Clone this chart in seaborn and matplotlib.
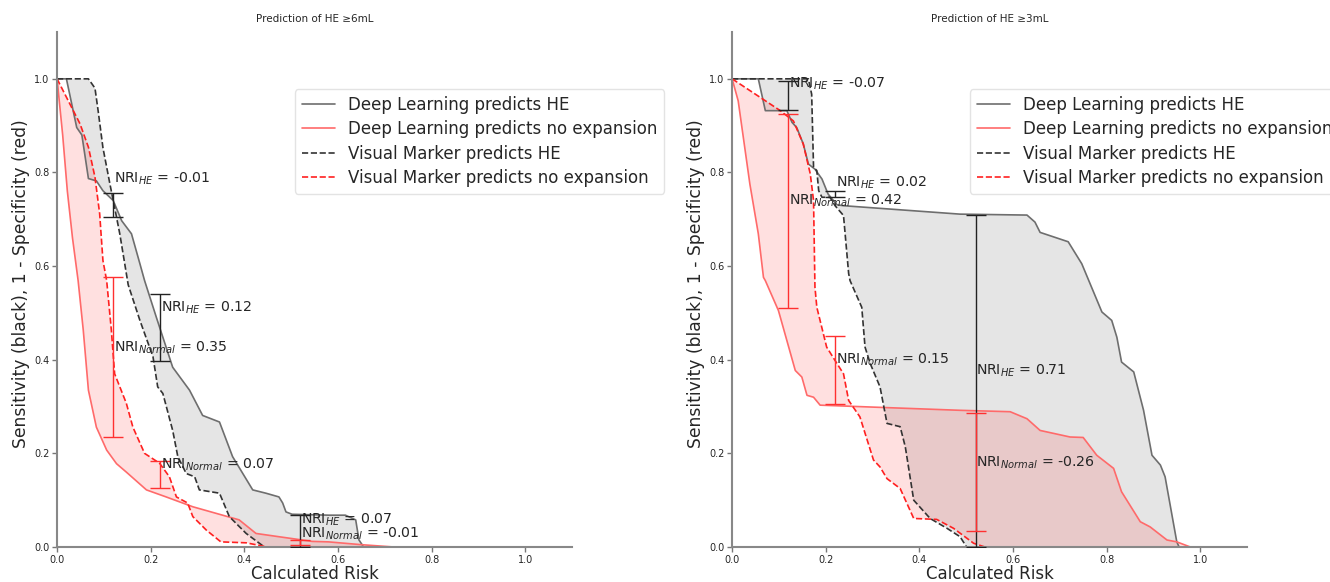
import numpy as np
import pandas as pd
import seaborn as sns
import matplotlib
matplotlib.use("Agg")
import matplotlib.pyplot as plt

# ---------------- data ----------------
titles = ["Prediction of HE \u22656mL", "Prediction of HE \u22653mL"]
legend_labels = ["Deep Learning predicts HE", "Deep Learning predicts no expansion",
                 "Visual Marker predicts HE", "Visual Marker predicts no expansion"]

# Panel 1 (HE >= 6 mL)
p1_dl_he_x = [0, 0.02, 0.042, 0.053, 0.067, 0.084, 0.098, 0.12, 0.138, 0.159, 0.177, 0.187, 0.212, 0.247,
              0.283, 0.311, 0.347, 0.375, 0.418, 0.446, 0.474, 0.482, 0.489, 0.502, 0.581, 0.616, 0.638,
              0.645, 0.655, 1.0]
p1_dl_he_y = [1.0, 1.0, 0.896, 0.88, 0.787, 0.782, 0.761, 0.74, 0.697, 0.669, 0.605, 0.569, 0.491, 0.384,
              0.335, 0.281, 0.267, 0.193, 0.122, 0.115, 0.107, 0.094, 0.075, 0.07, 0.068, 0.068, 0.058,
              0.015, 0.0, 0.0]
p1_dl_no_x = [0, 0.012, 0.022, 0.033, 0.045, 0.056, 0.067, 0.084, 0.106, 0.127, 0.148, 0.191, 0.233, 0.29,
              0.389, 0.425, 0.474, 0.545, 0.58, 0.65, 0.72, 1.0]
p1_dl_no_y = [1.0, 0.88, 0.76, 0.66, 0.569, 0.463, 0.335, 0.256, 0.207, 0.178, 0.16, 0.122, 0.107, 0.086,
              0.058, 0.029, 0.022, 0.012, 0.011, 0.005, 0.0, 0.0]
p1_vm_he_x = [0, 0.067, 0.081, 0.088, 0.098, 0.113, 0.123, 0.134, 0.152, 0.177, 0.205, 0.215, 0.226, 0.247,
              0.258, 0.276, 0.294, 0.304, 0.347, 0.368, 0.404, 0.443, 1.0]
p1_vm_he_y = [1.0, 1.0, 0.98, 0.93, 0.853, 0.775, 0.725, 0.669, 0.56, 0.484, 0.406, 0.342, 0.328, 0.249,
              0.193, 0.157, 0.15, 0.122, 0.115, 0.065, 0.029, 0.0, 0.0]
p1_vm_no_x = [0, 0.049, 0.067, 0.081, 0.091, 0.098, 0.106, 0.116, 0.123, 0.148, 0.162, 0.187, 0.219, 0.24,
              0.255, 0.279, 0.29, 0.319, 0.35, 0.404, 0.45, 1.0]
p1_vm_no_y = [1.0, 0.904, 0.854, 0.79, 0.712, 0.612, 0.569, 0.463, 0.37, 0.307, 0.256, 0.2, 0.179, 0.15,
              0.107, 0.094, 0.065, 0.036, 0.011, 0.009, 0.0, 0.0]

# Panel 2 (HE >= 3 mL)
p2_dl_he_x = [0, 0.056, 0.071, 0.117, 0.128, 0.138, 0.152, 0.163, 0.177, 0.192, 0.205, 0.224, 0.238, 0.487,
              0.63, 0.647, 0.658, 0.718, 0.747, 0.79, 0.811, 0.822, 0.832, 0.858, 0.879, 0.897, 0.915,
              0.925, 0.95, 0.955, 1.0]
p2_dl_he_y = [1.0, 1.0, 0.932, 0.932, 0.907, 0.896, 0.861, 0.818, 0.807, 0.786, 0.754, 0.731, 0.729, 0.711,
              0.709, 0.694, 0.672, 0.652, 0.605, 0.502, 0.484, 0.448, 0.395, 0.374, 0.292, 0.196, 0.175,
              0.15, 0.011, 0.0, 0.0]
p2_dl_no_x = [0, 0.013, 0.038, 0.056, 0.067, 0.071, 0.099, 0.117, 0.135, 0.149, 0.16, 0.174, 0.188, 0.487,
              0.594, 0.63, 0.658, 0.722, 0.75, 0.779, 0.815, 0.832, 0.872, 0.893, 0.929, 0.95, 0.979, 1.0]
p2_dl_no_y = [1.0, 0.953, 0.775, 0.669, 0.576, 0.569, 0.505, 0.441, 0.377, 0.363, 0.324, 0.32, 0.303, 0.292,
              0.289, 0.274, 0.249, 0.235, 0.234, 0.196, 0.168, 0.118, 0.054, 0.043, 0.015, 0.011, 0.0, 0.0]
p2_vm_he_x = [0, 0.163, 0.17, 0.174, 0.181, 0.185, 0.192, 0.209, 0.22, 0.238, 0.249, 0.252, 0.277, 0.284,
              0.295, 0.316, 0.331, 0.359, 0.37, 0.388, 0.423, 0.459, 0.487, 0.501, 1.0]
p2_vm_he_y = [1.0, 1.0, 0.967, 0.811, 0.804, 0.761, 0.747, 0.747, 0.729, 0.708, 0.584, 0.569, 0.512, 0.427,
              0.392, 0.342, 0.264, 0.257, 0.214, 0.1, 0.061, 0.04, 0.022, 0.0, 0.0]
p2_vm_no_x = [0, 0.103, 0.131, 0.152, 0.167, 0.174, 0.177, 0.181, 0.202, 0.224, 0.238, 0.249, 0.273, 0.302,
              0.316, 0.331, 0.359, 0.388, 0.437, 0.473, 0.516, 0.54, 1.0]
p2_vm_no_y = [1.0, 0.932, 0.91, 0.861, 0.797, 0.74, 0.555, 0.512, 0.427, 0.392, 0.37, 0.313, 0.278, 0.186,
              0.171, 0.146, 0.125, 0.061, 0.059, 0.04, 0.008, 0.0, 0.0]

# NRI bars: x position, low, high
nri_x = [0.12, 0.22, 0.52]
p1_he_low = [0.704, 0.397, 0.0]
p1_he_high = [0.756, 0.541, 0.068]
p1_no_low = [0.235, 0.125, 0.005]
p1_no_high = [0.576, 0.184, 0.015]
p2_he_low = [0.934, 0.748, 0.0]
p2_he_high = [0.996, 0.761, 0.709]
p2_no_low = [0.51, 0.306, 0.035]
p2_no_high = [0.925, 0.45, 0.287]

# NRI labels
p1_he_vals = ["-0.01", "0.12", "0.07"]
p1_no_vals = ["0.35", "0.07", "-0.01"]
p2_he_vals = ["-0.07", "0.02", "0.71"]
p2_no_vals = ["0.42", "0.15", "-0.26"]
p1_he_text_y = [0.787, 0.51, 0.058]
p1_no_text_y = [0.426, 0.175, 0.028]
p2_he_text_y = [0.989, 0.777, 0.377]
p2_no_text_y = [0.74, 0.399, 0.18]

xlabel = "Calculated Risk"
ylabel = "Sensitivity (black), 1 - Specificity (red)"

# ---------------- plotting ----------------
sns.set_style("white")
plt.rcParams['font.family'] = ['DejaVu Sans']

fig, axes = plt.subplots(1, 2, figsize=(13.3, 5.82), dpi=100)
fig.subplots_adjust(left=0.0429, right=0.9376, bottom=0.0601, top=0.945, wspace=0.311)

panels = [
    (p1_dl_he_x, p1_dl_he_y, p1_dl_no_x, p1_dl_no_y, p1_vm_he_x, p1_vm_he_y, p1_vm_no_x, p1_vm_no_y,
     p1_he_low, p1_he_high, p1_no_low, p1_no_high, p1_he_vals, p1_no_vals, p1_he_text_y, p1_no_text_y),
    (p2_dl_he_x, p2_dl_he_y, p2_dl_no_x, p2_dl_no_y, p2_vm_he_x, p2_vm_he_y, p2_vm_no_x, p2_vm_no_y,
     p2_he_low, p2_he_high, p2_no_low, p2_no_high, p2_he_vals, p2_no_vals, p2_he_text_y, p2_no_text_y),
]

c_dl_he = "#6e6e6e"
c_dl_no = "#ff6a6a"
c_vm_he = "#333333"
c_vm_no = "#ff2020"

for ax, title, pdata in zip(axes, titles, panels):
    (dhx, dhy, dnx, dny, vhx, vhy, vnx, vny, hl, hh, nl, nh, hv, nv, hty, nty) = pdata

    # filled regions between the two models
    ax.fill(np.concatenate([dhx, vhx[::-1]]), np.concatenate([dhy, vhy[::-1]]),
            color="gray", alpha=0.2, lw=0)
    ax.fill(np.concatenate([dnx, vnx[::-1]]), np.concatenate([dny, vny[::-1]]),
            color="red", alpha=0.12, lw=0)

    sns.lineplot(x=dhx, y=dhy, ax=ax, color=c_dl_he, lw=1.2, sort=False, estimator=None,
                 label=legend_labels[0])
    sns.lineplot(x=dnx, y=dny, ax=ax, color=c_dl_no, lw=1.2, sort=False, estimator=None,
                 label=legend_labels[1])
    sns.lineplot(x=vhx, y=vhy, ax=ax, color=c_vm_he, lw=1.2, sort=False, estimator=None,
                 linestyle="--", label=legend_labels[2])
    sns.lineplot(x=vnx, y=vny, ax=ax, color=c_vm_no, lw=1.2, sort=False, estimator=None,
                 linestyle="--", label=legend_labels[3])

    hl_a, hh_a = np.array(hl), np.array(hh)
    nl_a, nh_a = np.array(nl), np.array(nh)
    ax.errorbar(nri_x, (hl_a + hh_a) / 2, yerr=(hh_a - hl_a) / 2, fmt="none",
                ecolor="#222222", elinewidth=1.0, capsize=7, capthick=1.0, zorder=5)
    ax.errorbar(nri_x, (nl_a + nh_a) / 2, yerr=(nh_a - nl_a) / 2, fmt="none",
                ecolor="#ff3030", elinewidth=1.0, capsize=7, capthick=1.0, zorder=5)

    for xx, v, ty in zip(nri_x, hv, hty):
        ax.text(xx + 0.002, ty, r"NRI$_{HE}$ = " + v, fontsize=10.2, ha="left", va="center", zorder=6)
    for xx, v, ty in zip(nri_x, nv, nty):
        ax.text(xx + 0.002, ty, r"NRI$_{Normal}$ = " + v, fontsize=10.2, ha="left", va="center", zorder=6)

    ax.set_xlim(0, 1.1)
    ax.set_ylim(0, 1.1)
    ax.set_xticks([0, 0.2, 0.4, 0.6, 0.8, 1.0])
    ax.set_yticks([0, 0.2, 0.4, 0.6, 0.8, 1.0])
    ax.tick_params(axis="both", labelsize=7, length=3.5, width=1, color="#777777",
                   direction="out", bottom=True, left=True, pad=2)
    ax.set_xlabel(xlabel, fontsize=12, labelpad=0)
    ax.set_ylabel(ylabel, fontsize=12.3)
    ax.yaxis.set_label_coords(-0.052, 0.511)
    ax.set_title(title, fontsize=7.5, pad=7.5)
    sns.despine(ax=ax)
    for s in ["left", "bottom"]:
        ax.spines[s].set_color("#888888")
        ax.spines[s].set_linewidth(1.5)

    ax.legend(loc="upper left", bbox_to_anchor=(0.446, 0.905), fontsize=12, frameon=True,
              framealpha=0.8, edgecolor="#dddddd", borderpad=0.4, labelspacing=0.38,
              handlelength=2.0)

fig.savefig("out.png", dpi=100)
